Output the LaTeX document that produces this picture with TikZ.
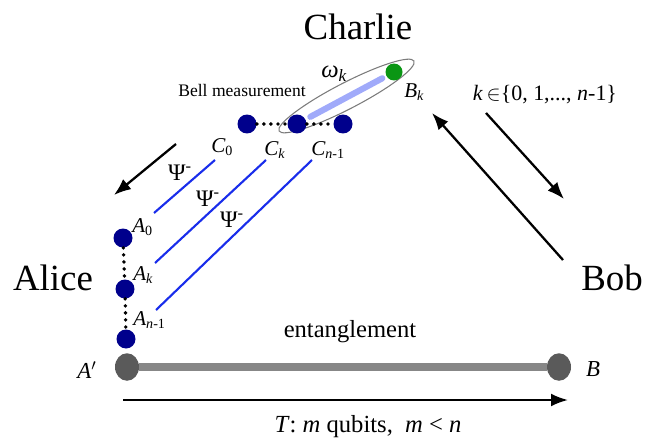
\documentclass[tikz,border=0pt]{standalone}
\usepackage{fontspec}
\setmainfont{Liberation Serif}
\usepackage{xcolor}
\definecolor{azulE}{RGB}{0,0,140}
\definecolor{azulL}{RGB}{25,45,235}
\definecolor{lilas}{RGB}{160,170,250}
\definecolor{verde}{RGB}{10,150,20}
\definecolor{cinza}{RGB}{90,90,90}
\definecolor{cinzaL}{RGB}{135,135,135}
\usepackage{tikz}
\usetikzlibrary{arrows.meta,shapes.geometric,positioning,calc}

\begin{document}
\begin{tikzpicture}[
    x=0.02cm, y=-0.02cm,
    qubit/.style={circle,fill=#1,inner sep=0pt,minimum size=0.38cm},
    nome/.style={font=\fontsize{21}{25}\selectfont},
    rotulo/.style={font=\fontsize{12}{14}\selectfont\itshape,inner sep=0pt,anchor=west},
    psi/.style={font=\fontsize{13.5}{15}\selectfont,inner sep=0pt},
    pontos/.style={line width=2.2pt,dash pattern=on 0pt off 4pt,line cap=round},
    par/.style={azulL,line width=1.2pt},
    seta/.style={-{Latex[length=3.4mm,width=2.6mm]},line width=1.3pt}
  ]
  \useasboundingbox (0,0) rectangle (645,446);

  % partes
  \node[nome] (charlie) at (358,27)  {Charlie};
  \node[nome] (alice)   at (53,278)  {Alice};
  \node[nome] (bob)     at (612,278) {Bob};

  % Bell measurement
  \node[draw=cinza!80,ellipse,line width=0.6pt,minimum width=3.04cm,
    minimum height=0.52cm,rotate=27.4] (bell) at (346.5,96) {};
  \node[font=\fontsize{10}{12}\selectfont] (bm) at (242,90) {Bell measurement};

  \node[qubit=azulE] (c0) at (247,124) {};
  \node[qubit=azulE] (ck) at (297,124) {};
  \node[qubit=azulE] (cn) at (343,124) {};
  \node[qubit=verde,minimum size=0.34cm] (bk) at (394,72) {};
  \draw[lilas,line width=3.5pt,line cap=round,shorten <=3pt,shorten >=2.5pt] (ck) -- (bk);
  \draw[pontos] (c0) -- (ck);
  \draw[pontos] (ck) -- (cn);

  \node[rotulo] (lc0) at (211,147) {C\textsubscript{\upshape 0}};
  \node[rotulo] (lck) at (264,150) {C\textsubscript{k}};
  \node[rotulo] (lcn) at (311,150) {C\textsubscript{n\upshape -1}};
  \node[rotulo] (lbk) at (404,92)  {B\textsubscript{k}};
  \node[rotulo,font=\fontsize{14}{16}\selectfont\itshape] (lw) at (321,74) {ω\textsubscript{k}};

  % Alice
  \node[qubit=azulE] (a0) at (123,238) {};
  \node[qubit=azulE] (ak) at (125,289) {};
  \node[qubit=azulE] (an) at (126,339) {};
  \draw[pontos] (a0) -- (ak);
  \draw[pontos] (ak) -- (an);

  \node[rotulo] (la0) at (132,227) {A\textsubscript{\upshape 0}};
  \node[rotulo] (lak) at (133,275) {A\textsubscript{k}};
  \node[rotulo] (lan) at (133,320) {A\textsubscript{n\upshape -1}};

  % pares
  \coordinate (p0a) at (215,160); \coordinate (p0b) at (154,213);
  \coordinate (p1a) at (266,160); \coordinate (p1b) at (155,263);
  \coordinate (p2a) at (312,160); \coordinate (p2b) at (156,310);
  \draw[par] (p0a) -- (p0b);
  \draw[par] (p1a) -- (p1b);
  \draw[par] (p2a) -- (p2b);
  \node[psi] (s0) at (180,173) {Ψ\textsuperscript{-}};
  \node[psi] (s1) at (208,199) {Ψ\textsuperscript{-}};
  \node[psi] (s2) at (232,220) {Ψ\textsuperscript{-}};

  % setas
  \coordinate (e0) at (176,144); \coordinate (e1) at (114,195);
  \coordinate (f0) at (563,260); \coordinate (f1) at (432,113);
  \coordinate (g0) at (486,113); \coordinate (g1) at (564,199);
  \draw[seta] (e0) -- (e1);
  \draw[seta] (f0) -- (f1);
  \draw[seta] (g0) -- (g1);
  \node[font=\fontsize{12.5}{15}\selectfont] (idx) at (545,95)
    {\textit{k}\,$\in$\{0, 1,..., \textit{n}-1\}};

  % emaranhamento
  \node[ellipse,fill=cinza,inner sep=0pt,minimum width=0.48cm,minimum height=0.55cm] (ap) at (127,367) {};
  \node[ellipse,fill=cinza,inner sep=0pt,minimum width=0.48cm,minimum height=0.55cm] (b)  at (559,367) {};
  \draw[cinzaL,line width=5pt] (ap) -- (b);
  \node[font=\fontsize{14}{16}\selectfont] (ent) at (350,332) {entanglement};
  \node[font=\fontsize{13}{15}\selectfont\itshape] (lap) at (87,370) {A$'$};
  \node[font=\fontsize{13}{15}\selectfont\itshape] (lb)  at (593,369) {B};

  % canal T
  \coordinate (t0) at (123,400); \coordinate (t1) at (568,400);
  \draw[seta] (t0) -- (t1);
  \node[font=\fontsize{14}{16}\selectfont] (lt) at (368,427)
    {\textit{T}: \textit{m} qubits,\ \ \textit{m} < \textit{n}};
\end{tikzpicture}
\end{document}
